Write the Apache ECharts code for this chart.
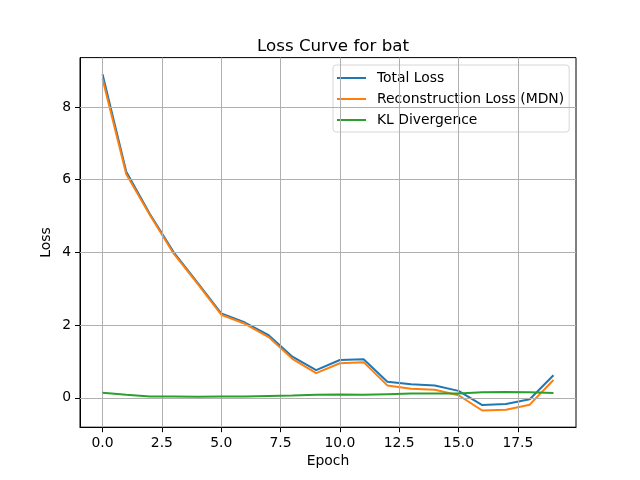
<!DOCTYPE html>
<html><head><meta charset="utf-8">
<script src="https://cdn.jsdelivr.net/npm/echarts@6/dist/echarts.min.js"></script>
<style>html,body{margin:0;padding:0;background:#fff}#c{width:640px;height:480px}</style>
</head><body><div id="c"></div>
<script>
var epochs = [0,1,2,3,4,5,6,7,8,9,10,11,12,13,14,15,16,17,18,19];
var totalLoss = [8.90,6.22,5.05,4.00,3.17,2.32,2.07,1.72,1.13,0.76,1.04,1.06,0.44,0.37,0.34,0.19,-0.20,-0.17,-0.04,0.62];
var reconLoss = [8.77,6.15,5.02,3.965,3.14,2.285,2.035,1.67,1.07,0.68,0.95,0.98,0.34,0.25,0.22,0.07,-0.35,-0.33,-0.19,0.49];
var klDiv = [0.14,0.08,0.036,0.035,0.03,0.035,0.035,0.05,0.06,0.08,0.09,0.08,0.10,0.12,0.12,0.12,0.15,0.16,0.15,0.13];
var xTicks = [0,2.5,5,7.5,10,12.5,15,17.5];
var yTicks = [0,2,4,6,8];
var seriesNames = ['Total Loss','Reconstruction Loss (MDN)','KL Divergence'];
var colors = ['#1f77b4','#ff7f0e','#2ca02c'];

function pairs(v){ return epochs.map(function(e,i){ return [e, v[i]]; }); }
var font = 'DejaVu Sans';
var gridLines = xTicks.map(function(t){ return {xAxis:t}; }).concat(yTicks.map(function(t){ return {yAxis:t}; }));
var chart = echarts.init(document.getElementById('c'), null, {renderer:'canvas'});
var series = [totalLoss, reconLoss, klDiv].map(function(v,i){
  return {name:seriesNames[i], type:'line', data:pairs(v), showSymbol:false, symbol:'none',
    lineStyle:{color:colors[i], width:2}, itemStyle:{color:colors[i]}, z:3+i};
});
series.push({
  name:'_grid', type:'line', data:[], silent:true, z:1,
  markLine:{silent:true, symbol:['none','none'], label:{show:false}, animation:false,
    lineStyle:{color:'#b0b0b0', width:1, type:'solid'}, emphasis:{disabled:true}, data:gridLines}
});
chart.setOption({
  animation:false,
  backgroundColor:'#fff',
  title:{text:'Loss Curve for bat', left:328, textAlign:'center', top:33, textStyle:{fontFamily:font, fontSize:16.7, fontWeight:'normal', color:'#000'}},
  grid:{left:80, right:64, top:57.6, bottom:52.8, show:true, borderColor:'#000', borderWidth:1, containLabel:false},
  legend:{
    orient:'vertical', left:333, top:65, data:seriesNames,
    icon:'rect', itemWidth:29, itemHeight:2, itemGap:7,
    padding:[6,5,5,4], borderColor:'#d6d6d6', borderWidth:1, borderRadius:3,
    backgroundColor:'rgba(255,255,255,0.8)',
    textStyle:{fontFamily:font, fontSize:13.9, color:'#000', padding:[0,0,0,6]}
  },
  xAxis:{
    type:'value', min:-0.95, max:19.95,
    name:'Epoch', nameLocation:'middle', nameGap:27, nameMoveOverlap:false,
    nameTextStyle:{fontFamily:font, fontSize:13.9, color:'#000'},
    axisLine:{show:true, onZero:false, lineStyle:{color:'#000', width:1}},
    axisTick:{show:true, length:5, customValues:xTicks, lineStyle:{color:'#000'}},
    axisLabel:{customValues:xTicks, margin:9, fontFamily:font, fontSize:13.9, color:'#000', formatter:function(v){return v.toFixed(1);}},
    splitLine:{show:false}
  },
  yAxis:{
    type:'value', min:-0.81, max:9.36,
    name:'Loss', nameLocation:'middle', nameGap:27, nameRotate:90, nameMoveOverlap:false,
    nameTextStyle:{fontFamily:font, fontSize:13.9, color:'#000'},
    axisLine:{show:true, onZero:false, lineStyle:{color:'#000', width:1}},
    axisTick:{show:true, length:5, customValues:yTicks, lineStyle:{color:'#000'}},
    axisLabel:{customValues:yTicks, margin:9, fontFamily:font, fontSize:13.9, color:'#000', formatter:function(v){return String(v);}},
    splitLine:{show:false}
  },
  series:series
});
</script></body></html>
